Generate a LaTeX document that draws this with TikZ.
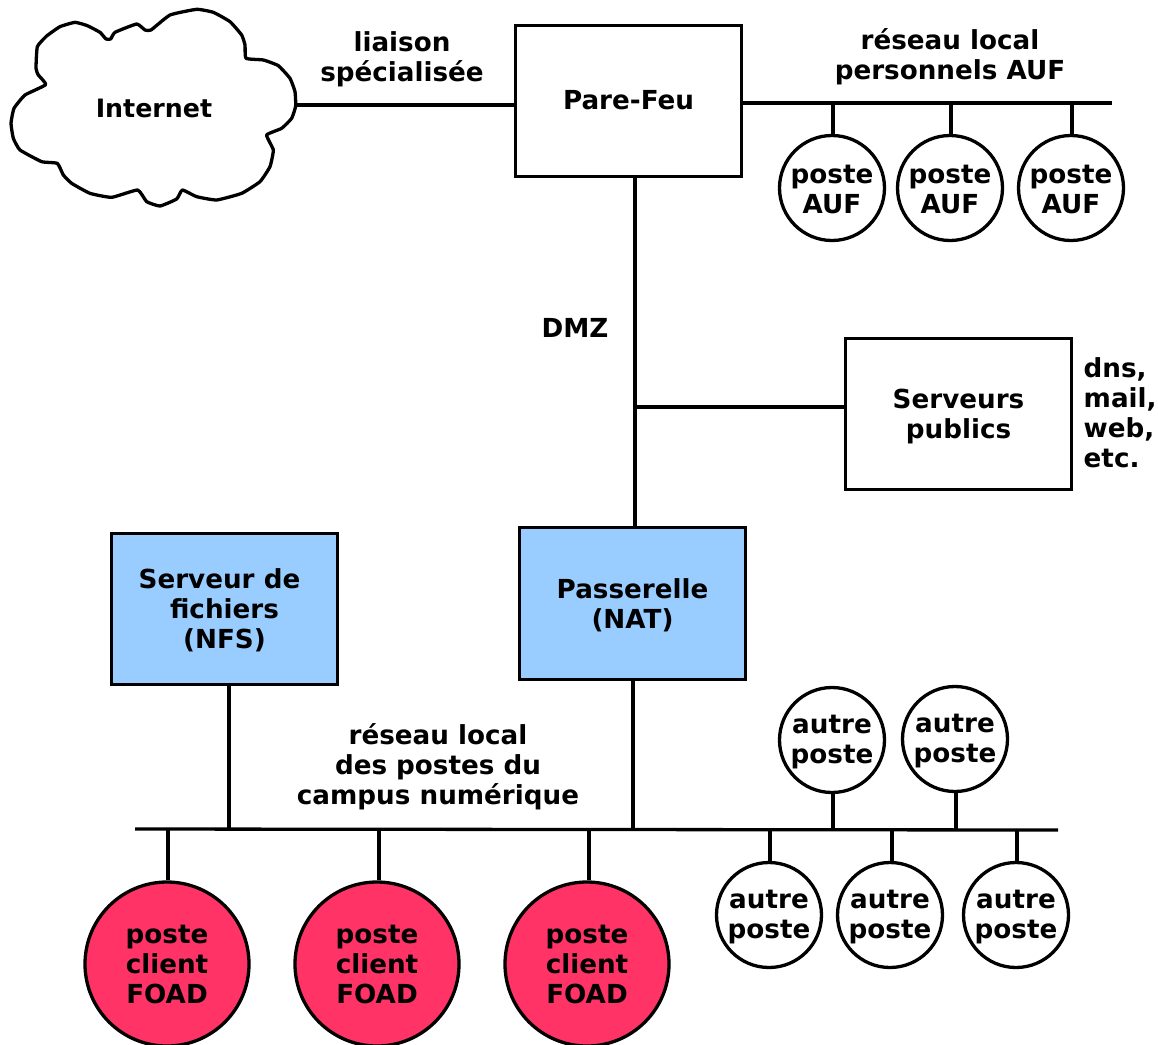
\documentclass[tikz,border=0pt]{standalone}
\usepackage{fontspec}
\setmainfont{DejaVu Sans}
\begin{document}
\begin{tikzpicture}[x=1pt,y=-1pt,line join=miter,
  every node/.style={font=\fontsize{26.2}{30}\selectfont\bfseries,align=center,inner sep=0pt},
  wire/.style={line width=3.3pt,black},
  boxnode/.style={draw,line width=3.3pt,minimum width=226.5pt,minimum height=151.5pt,fill=white},
  bluebox/.style={boxnode,fill={rgb,255:red,153;green,204;blue,255}},
  smallc/.style={draw,circle,line width=3.3pt,minimum size=105pt,fill=white},
  bigc/.style={draw,circle,line width=3.3pt,minimum size=164pt,fill={rgb,255:red,255;green,51;blue,102}},
  txtdown/.style={yshift=-#1pt}]
\useasboundingbox (0,0) rectangle (1158,1044);
% cloud
\draw[line width=3.3pt,fill=white,line join=round,x=1/3*1pt,y=-1/3*1pt] plot[smooth cycle,tension=0.25] coordinates {
(137,254)(115,225)(108,205)(112,140)(140,108)(180,80)(225,67)(262,77)(300,97)(318,117)(332,117)(345,97)(410,72)(435,90)(453,90)(510,45)(590,28)(640,37)(690,65)(725,105)(735,135)(738,175)(790,180)(835,197)(870,235)(885,275)(887,318)(875,355)(845,385)(800,405)(820,450)(810,500)(780,545)(725,580)(650,600)(590,590)(547,570)(530,597)(480,618)(440,605)(413,570)(335,592)(270,580)(215,550)(190,525)(172,490)(125,485)(60,450)(40,415)(33,370)(42,325)(75,285)};
\node[font=\fontsize{25.3}{30}\selectfont\bfseries] (internet) at (154,108) {Internet};
\coordinate (cloudE) at (296,105);
\node[boxnode,label={[txtdown=-0.5]center:{Pare-Feu}}] (parefeu) at (628.5,101) {};
\node[boxnode,label={[txtdown=2]center:{Serveurs\\publics}}] (serveurs) at (958.5,414) {};
\node[bluebox,label={[txtdown=1.5]center:{Passerelle\\(NAT)}}] (passerelle) at (632.5,603.5) {};
\node[bluebox,label={[txtdown=1]center:{Serveur de\hspace*{10pt}\\fichiers\\(NFS)}}] (fichiers) at (224.5,609) {};
\node[smallc,label={[txtdown=1]center:{poste\\AUF}}] (auf1) at (832,188) {};
\node[smallc,label={[txtdown=1]center:{poste\\AUF}}] (auf2) at (950,188) {};
\node[smallc,label={[txtdown=1]center:{poste\\AUF}}] (auf3) at (1071,188) {};
\node[smallc,label={[txtdown=2.5]center:{autre\\poste}}] (au1) at (832,740) {};
\node[smallc,label={[txtdown=2.5]center:{autre\\poste}}] (au2) at (955,739) {};
\node[smallc,label={[txtdown=2.5]center:{autre\\poste}}] (au3) at (769,915) {};
\node[smallc,label={[txtdown=2.5]center:{autre\\poste}}] (au4) at (890,915) {};
\node[smallc,label={[txtdown=2.5]center:{autre\\poste}}] (au5) at (1016,915) {};
\node[bigc,label={[txtdown=0.5]center:{poste\\client\\FOAD}}] (foad1) at (167,964) {};
\node[bigc,label={[txtdown=0.5]center:{poste\\client\\FOAD}}] (foad2) at (377,964) {};
\node[bigc,label={[txtdown=0.5]center:{poste\\client\\FOAD}}] (foad3) at (587,964) {};
\node (lblLiaison) at (402,59) {liaison\\spécialisée};
\node (lblLocal) at (950,57) {réseau local\\personnels AUF};
\node (lblDmz) at (575,328) {DMZ};
\node[align=left,anchor=west] (lblDns) at (1083.5,413) {dns,\\mail,\\web,\\etc.};
\node (lblCampus) at (438,767) {réseau local\\des postes du\\campus numérique};
\coordinate (lanE) at (1112,103);
\coordinate (busW) at (135,829);
\coordinate (busE) at (1058,830);
\coordinate (dmzJ) at (635,407);
% connectors
\draw[wire] (cloudE) -- (parefeu.west |- cloudE);
\draw[wire] (parefeu.east |- lanE) -- (lanE);
\draw[wire] (busW) -- (busE);
\draw[wire] (dmzJ |- parefeu.south) -- (dmzJ |- passerelle.north);
\draw[wire] (dmzJ) -- (serveurs.west |- dmzJ);
\draw[wire] (auf1.north) ++(1,0) -- (833,103);
\draw[wire] (auf2.north) ++(1,0) -- (951,103);
\draw[wire] (auf3.north) ++(1,0) -- (1072,103);
\draw[wire] (229,0 |- fichiers.south) -- (229,829);
\draw[wire] ([xshift=0.5pt]passerelle.south) -- ([xshift=0.5pt]passerelle.south |- busW);
\draw[wire] (au1.south) ++(1,0) -- (833,829.5);
\draw[wire] (au2.south) ++(1,0) -- (956,829.5);
\draw[wire] (au3.north) ++(1,0) -- (770,829.5);
\draw[wire] (au4.north) ++(2,0) -- (892,829.5);
\draw[wire] (au5.north) ++(1,0) -- (1017,829.5);
\draw[wire] (foad1.north) ++(1,0) -- (168,829);
\draw[wire] (foad2.north) ++(2,0) -- (379,829);
\draw[wire] (foad3.north) ++(2,0) -- (589,829);
\end{tikzpicture}
\end{document}
